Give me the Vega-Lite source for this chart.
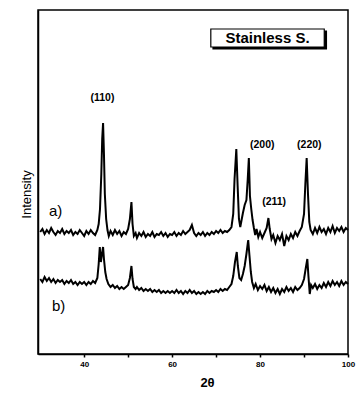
{
  "$schema": "https://vega.github.io/schema/vega-lite/v6.json",
  "width": 310,
  "height": 344,
  "autosize": {"type": "none"},
  "padding": {"left": 38, "top": 10, "right": 10, "bottom": 41},
  "background": "white",
  "config": {
    "font": "Liberation Sans",
    "view": {"stroke": "black", "strokeWidth": 1.5},
    "axis": {"grid": false, "domainColor": "black", "tickColor": "black", "labelColor": "black", "titleColor": "black"}
  },
  "datasets": {
    "xrd": [
      {"s":"a","t":30,"i":122},{"s":"a","t":30.5,"i":125},{"s":"a","t":31,"i":120},{"s":"a","t":31.5,"i":124},{"s":"a","t":32,"i":121},{"s":"a","t":32.5,"i":126},{"s":"a","t":33,"i":122},{"s":"a","t":33.5,"i":119},{"s":"a","t":34,"i":123},{"s":"a","t":34.5,"i":121},{"s":"a","t":35,"i":125},{"s":"a","t":35.5,"i":120},{"s":"a","t":36,"i":123},{"s":"a","t":36.5,"i":121},{"s":"a","t":37,"i":124},{"s":"a","t":37.5,"i":119},{"s":"a","t":38,"i":122},{"s":"a","t":38.5,"i":120},{"s":"a","t":39,"i":124},{"s":"a","t":39.5,"i":121},{"s":"a","t":40,"i":118},{"s":"a","t":40.5,"i":123},{"s":"a","t":41,"i":120},{"s":"a","t":41.5,"i":124},{"s":"a","t":42,"i":121},{"s":"a","t":42.5,"i":119},{"s":"a","t":43,"i":124},{"s":"a","t":43.3,"i":130},{"s":"a","t":43.6,"i":145},{"s":"a","t":43.9,"i":180},{"s":"a","t":44.1,"i":215},{"s":"a","t":44.3,"i":231},{"s":"a","t":44.5,"i":200},{"s":"a","t":44.7,"i":160},{"s":"a","t":45,"i":135},{"s":"a","t":45.3,"i":124},{"s":"a","t":45.6,"i":118},{"s":"a","t":46,"i":123},{"s":"a","t":46.5,"i":119},{"s":"a","t":47,"i":124},{"s":"a","t":47.5,"i":120},{"s":"a","t":48,"i":123},{"s":"a","t":48.5,"i":118},{"s":"a","t":49,"i":122},{"s":"a","t":49.5,"i":120},{"s":"a","t":50,"i":125},{"s":"a","t":50.4,"i":135},{"s":"a","t":50.75,"i":152},{"s":"a","t":51,"i":130},{"s":"a","t":51.3,"i":118},{"s":"a","t":51.7,"i":121},{"s":"a","t":52,"i":116},{"s":"a","t":52.5,"i":121},{"s":"a","t":53,"i":118},{"s":"a","t":53.5,"i":122},{"s":"a","t":54,"i":117},{"s":"a","t":54.5,"i":120},{"s":"a","t":55,"i":118},{"s":"a","t":55.5,"i":122},{"s":"a","t":56,"i":117},{"s":"a","t":56.5,"i":120},{"s":"a","t":57,"i":119},{"s":"a","t":57.5,"i":122},{"s":"a","t":58,"i":118},{"s":"a","t":58.5,"i":121},{"s":"a","t":59,"i":117},{"s":"a","t":59.5,"i":120},{"s":"a","t":60,"i":119},{"s":"a","t":60.5,"i":122},{"s":"a","t":61,"i":118},{"s":"a","t":61.5,"i":121},{"s":"a","t":62,"i":119},{"s":"a","t":62.5,"i":123},{"s":"a","t":63,"i":120},{"s":"a","t":63.5,"i":122},{"s":"a","t":64,"i":124},{"s":"a","t":64.5,"i":129},{"s":"a","t":65,"i":121},{"s":"a","t":65.5,"i":118},{"s":"a","t":66,"i":121},{"s":"a","t":66.5,"i":119},{"s":"a","t":67,"i":122},{"s":"a","t":67.5,"i":118},{"s":"a","t":68,"i":121},{"s":"a","t":68.5,"i":119},{"s":"a","t":69,"i":122},{"s":"a","t":69.5,"i":120},{"s":"a","t":70,"i":123},{"s":"a","t":70.5,"i":121},{"s":"a","t":71,"i":124},{"s":"a","t":71.5,"i":121},{"s":"a","t":72,"i":123},{"s":"a","t":72.5,"i":122},{"s":"a","t":73,"i":124},{"s":"a","t":73.5,"i":127},{"s":"a","t":73.9,"i":140},{"s":"a","t":74.2,"i":175},{"s":"a","t":74.6,"i":205},{"s":"a","t":74.9,"i":168},{"s":"a","t":75.2,"i":135},{"s":"a","t":75.5,"i":127},{"s":"a","t":75.8,"i":134},{"s":"a","t":76.1,"i":141},{"s":"a","t":76.5,"i":149},{"s":"a","t":76.9,"i":154},{"s":"a","t":77.2,"i":175},{"s":"a","t":77.45,"i":196},{"s":"a","t":77.7,"i":158},{"s":"a","t":78,"i":145},{"s":"a","t":78.3,"i":134},{"s":"a","t":78.6,"i":126},{"s":"a","t":78.9,"i":119},{"s":"a","t":79.2,"i":125},{"s":"a","t":79.6,"i":117},{"s":"a","t":80,"i":122},{"s":"a","t":80.5,"i":116},{"s":"a","t":81,"i":121},{"s":"a","t":81.5,"i":126},{"s":"a","t":81.9,"i":136},{"s":"a","t":82.2,"i":125},{"s":"a","t":82.6,"i":115},{"s":"a","t":83,"i":119},{"s":"a","t":83.5,"i":111},{"s":"a","t":84,"i":118},{"s":"a","t":84.5,"i":114},{"s":"a","t":85,"i":120},{"s":"a","t":85.5,"i":108},{"s":"a","t":86,"i":118},{"s":"a","t":86.5,"i":114},{"s":"a","t":87,"i":120},{"s":"a","t":87.5,"i":116},{"s":"a","t":88,"i":122},{"s":"a","t":88.5,"i":118},{"s":"a","t":89,"i":123},{"s":"a","t":89.5,"i":127},{"s":"a","t":90,"i":140},{"s":"a","t":90.3,"i":170},{"s":"a","t":90.6,"i":196},{"s":"a","t":90.9,"i":160},{"s":"a","t":91.2,"i":132},{"s":"a","t":91.5,"i":124},{"s":"a","t":92,"i":120},{"s":"a","t":92.5,"i":126},{"s":"a","t":93,"i":121},{"s":"a","t":93.5,"i":127},{"s":"a","t":94,"i":122},{"s":"a","t":94.5,"i":125},{"s":"a","t":95,"i":120},{"s":"a","t":95.5,"i":126},{"s":"a","t":96,"i":122},{"s":"a","t":96.5,"i":128},{"s":"a","t":97,"i":121},{"s":"a","t":97.5,"i":126},{"s":"a","t":98,"i":123},{"s":"a","t":98.5,"i":127},{"s":"a","t":99,"i":122},{"s":"a","t":99.5,"i":126},{"s":"a","t":100,"i":124},
      {"s":"b","t":30,"i":75},{"s":"b","t":30.5,"i":72},{"s":"b","t":31,"i":77},{"s":"b","t":31.5,"i":73},{"s":"b","t":32,"i":76},{"s":"b","t":32.5,"i":72},{"s":"b","t":33,"i":75},{"s":"b","t":33.5,"i":71},{"s":"b","t":34,"i":74},{"s":"b","t":34.5,"i":72},{"s":"b","t":35,"i":74},{"s":"b","t":35.5,"i":70},{"s":"b","t":36,"i":73},{"s":"b","t":36.5,"i":71},{"s":"b","t":37,"i":74},{"s":"b","t":37.5,"i":70},{"s":"b","t":38,"i":72},{"s":"b","t":38.5,"i":69},{"s":"b","t":39,"i":72},{"s":"b","t":39.5,"i":70},{"s":"b","t":40,"i":72},{"s":"b","t":40.5,"i":69},{"s":"b","t":41,"i":72},{"s":"b","t":41.5,"i":70},{"s":"b","t":42,"i":73},{"s":"b","t":42.5,"i":71},{"s":"b","t":43,"i":76},{"s":"b","t":43.3,"i":90},{"s":"b","t":43.55,"i":107},{"s":"b","t":43.8,"i":92},{"s":"b","t":44.05,"i":100},{"s":"b","t":44.3,"i":107},{"s":"b","t":44.5,"i":95},{"s":"b","t":44.8,"i":82},{"s":"b","t":45.1,"i":75},{"s":"b","t":45.5,"i":70},{"s":"b","t":46,"i":67},{"s":"b","t":46.5,"i":69},{"s":"b","t":47,"i":66},{"s":"b","t":47.5,"i":68},{"s":"b","t":48,"i":65},{"s":"b","t":48.5,"i":67},{"s":"b","t":49,"i":65},{"s":"b","t":49.5,"i":67},{"s":"b","t":50,"i":69},{"s":"b","t":50.4,"i":76},{"s":"b","t":50.75,"i":88},{"s":"b","t":51,"i":75},{"s":"b","t":51.3,"i":67},{"s":"b","t":51.7,"i":65},{"s":"b","t":52,"i":67},{"s":"b","t":52.5,"i":64},{"s":"b","t":53,"i":66},{"s":"b","t":53.5,"i":63},{"s":"b","t":54,"i":65},{"s":"b","t":54.5,"i":63},{"s":"b","t":55,"i":65},{"s":"b","t":55.5,"i":62},{"s":"b","t":56,"i":64},{"s":"b","t":56.5,"i":62},{"s":"b","t":57,"i":64},{"s":"b","t":57.5,"i":61},{"s":"b","t":58,"i":63},{"s":"b","t":58.5,"i":61},{"s":"b","t":59,"i":63},{"s":"b","t":59.5,"i":61},{"s":"b","t":60,"i":63},{"s":"b","t":60.5,"i":61},{"s":"b","t":61,"i":64},{"s":"b","t":61.5,"i":61},{"s":"b","t":62,"i":63},{"s":"b","t":62.5,"i":60},{"s":"b","t":63,"i":63},{"s":"b","t":63.5,"i":61},{"s":"b","t":64,"i":64},{"s":"b","t":64.5,"i":61},{"s":"b","t":65,"i":63},{"s":"b","t":65.5,"i":60},{"s":"b","t":66,"i":62},{"s":"b","t":66.5,"i":60},{"s":"b","t":67,"i":62},{"s":"b","t":67.5,"i":60},{"s":"b","t":68,"i":63},{"s":"b","t":68.5,"i":61},{"s":"b","t":69,"i":63},{"s":"b","t":69.5,"i":62},{"s":"b","t":70,"i":64},{"s":"b","t":70.5,"i":62},{"s":"b","t":71,"i":65},{"s":"b","t":71.5,"i":63},{"s":"b","t":72,"i":65},{"s":"b","t":72.5,"i":64},{"s":"b","t":73,"i":67},{"s":"b","t":73.5,"i":70},{"s":"b","t":73.9,"i":78},{"s":"b","t":74.3,"i":92},{"s":"b","t":74.7,"i":102},{"s":"b","t":74.95,"i":88},{"s":"b","t":75.3,"i":76},{"s":"b","t":75.7,"i":74},{"s":"b","t":76.1,"i":80},{"s":"b","t":76.5,"i":88},{"s":"b","t":76.9,"i":100},{"s":"b","t":77.3,"i":114},{"s":"b","t":77.6,"i":98},{"s":"b","t":77.9,"i":82},{"s":"b","t":78.2,"i":72},{"s":"b","t":78.6,"i":66},{"s":"b","t":79,"i":70},{"s":"b","t":79.5,"i":64},{"s":"b","t":80,"i":68},{"s":"b","t":80.5,"i":65},{"s":"b","t":81,"i":69},{"s":"b","t":81.5,"i":63},{"s":"b","t":82,"i":67},{"s":"b","t":82.5,"i":62},{"s":"b","t":83,"i":66},{"s":"b","t":83.5,"i":61},{"s":"b","t":84,"i":65},{"s":"b","t":84.5,"i":60},{"s":"b","t":85,"i":65},{"s":"b","t":85.5,"i":62},{"s":"b","t":86,"i":67},{"s":"b","t":86.5,"i":63},{"s":"b","t":87,"i":66},{"s":"b","t":87.5,"i":62},{"s":"b","t":88,"i":67},{"s":"b","t":88.5,"i":64},{"s":"b","t":89,"i":66},{"s":"b","t":89.5,"i":69},{"s":"b","t":90,"i":75},{"s":"b","t":90.4,"i":86},{"s":"b","t":90.75,"i":95},{"s":"b","t":91,"i":78},{"s":"b","t":91.3,"i":60},{"s":"b","t":91.6,"i":69},{"s":"b","t":92,"i":66},{"s":"b","t":92.5,"i":70},{"s":"b","t":93,"i":65},{"s":"b","t":93.5,"i":69},{"s":"b","t":94,"i":66},{"s":"b","t":94.5,"i":71},{"s":"b","t":95,"i":67},{"s":"b","t":95.5,"i":72},{"s":"b","t":96,"i":68},{"s":"b","t":96.5,"i":73},{"s":"b","t":97,"i":69},{"s":"b","t":97.5,"i":72},{"s":"b","t":98,"i":68},{"s":"b","t":98.5,"i":73},{"s":"b","t":99,"i":69},{"s":"b","t":99.5,"i":72},{"s":"b","t":100,"i":70}
    ],
    "box": [
      {"k":"shadow","x0":69.3,"x1":95.1,"y0":305,"y1":323},
      {"k":"box","x0":68.8,"x1":94.6,"y0":307,"y1":325}
    ],
    "labels": [
      {"kind":"hkl","lab":"(110)","t":44.15,"i":256},
      {"kind":"hkl","lab":"(200)","t":80.5,"i":209},
      {"kind":"hkl","lab":"(220)","t":91.2,"i":209},
      {"kind":"hkl","lab":"(211)","t":83.2,"i":152},
      {"kind":"series","lab":"a)","t":33.5,"i":143},
      {"kind":"series","lab":"b)","t":34.2,"i":48},
      {"kind":"title","lab":"Stainless S.","t":81.7,"i":316}
    ]
  },
  "layer": [
    {
      "data": {"name": "xrd"},
      "mark": {"type": "line", "color": "black", "strokeWidth": 2, "strokeJoin": "miter"},
      "encoding": {
        "x": {
          "field": "t", "type": "quantitative",
          "scale": {"domain": [29.5, 100], "nice": false, "zero": false},
          "axis": {
            "values": [40, 50, 60, 70, 80, 90, 100],
            "labelExpr": "datum.value == 40 || datum.value == 60 || datum.value == 80 || datum.value == 100 ? datum.label : ''",
            "labelFlush": false,
            "tickSize": 3,
            "tickWidth": 1.5,
            "domainWidth": 1.5,
            "labelFontSize": 8,
            "labelFontWeight": "bold",
            "labelPadding": 3,
            "title": "2θ",
            "titleFontSize": 13,
            "titleFontWeight": "bold",
            "titlePadding": 8,
            "titleX": 169
          }
        },
        "y": {
          "field": "i", "type": "quantitative",
          "scale": {"domain": [0, 344], "nice": false},
          "axis": {
            "labels": false, "ticks": false, "domainWidth": 1.5,
            "title": "Intensity", "titleFontSize": 13, "titleFontWeight": "normal",
            "titlePadding": 5, "titleY": 184
          }
        },
        "detail": {"field": "s", "type": "nominal"}
      }
    },
    {
      "data": {"name": "box"},
      "mark": {"type": "rect", "stroke": "black", "strokeWidth": 1.2},
      "encoding": {
        "x": {"field": "x0", "type": "quantitative"},
        "x2": {"field": "x1"},
        "y": {"field": "y0", "type": "quantitative"},
        "y2": {"field": "y1"},
        "fill": {"field": "k", "type": "nominal", "scale": {"domain": ["shadow", "box"], "range": ["black", "white"]}, "legend": null}
      }
    },
    {
      "data": {"name": "labels"},
      "transform": [{"filter": "datum.kind == 'hkl'"}],
      "mark": {"type": "text", "fontSize": 10.5, "fontWeight": "bold", "color": "black", "baseline": "middle", "align": "center"},
      "encoding": {
        "x": {"field": "t", "type": "quantitative"},
        "y": {"field": "i", "type": "quantitative"},
        "text": {"field": "lab"}
      }
    },
    {
      "data": {"name": "labels"},
      "transform": [{"filter": "datum.kind == 'series'"}],
      "mark": {"type": "text", "fontSize": 15, "color": "black", "baseline": "middle", "align": "center"},
      "encoding": {
        "x": {"field": "t", "type": "quantitative"},
        "y": {"field": "i", "type": "quantitative"},
        "text": {"field": "lab"}
      }
    },
    {
      "data": {"name": "labels"},
      "transform": [{"filter": "datum.kind == 'title'"}],
      "mark": {"type": "text", "fontSize": 15, "fontWeight": "bold", "color": "black", "baseline": "middle", "align": "center"},
      "encoding": {
        "x": {"field": "t", "type": "quantitative"},
        "y": {"field": "i", "type": "quantitative"},
        "text": {"field": "lab"}
      }
    }
  ]
}
